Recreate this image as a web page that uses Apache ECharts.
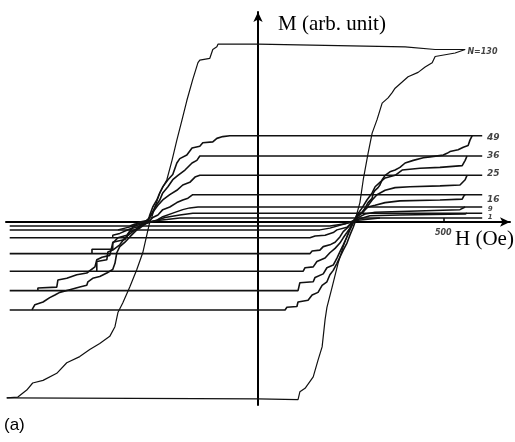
<!DOCTYPE html>
<html><head><meta charset="utf-8">
<script src="https://cdn.jsdelivr.net/npm/echarts@6/dist/echarts.min.js"></script>
<style>html,body{margin:0;padding:0;background:#fff}#c{width:515px;height:442px}</style>
</head><body><div id="c"></div>
<script>
// H in Oe, M in arbitrary units (N=130 saturation ~ 100)
const xTicks = [500];
const loopNames = ['N=130','49','36','25','16','9','1'];
const labelH = [565, 618, 618, 618, 618, 620, 620];
const labelM = [96.5, 47.7, 37.5, 27.3, 12.5, 7.2, 2.6];

const N130_down = [[559,98],[478,98],[397,99.5],[0,101],[-108,101],[-111,99.5],[-122,98],[-130,93],[-130,92],[-157,92],[-162,90.5],[-176,81],[-192,69],[-205,58],[-219,46.5],[-232,35],[-246,24],[-265,16.5],[-278,8.5],[-286,3],[-292,0],[-311,-17.5],[-327,-27],[-346,-37],[-365,-46],[-378,-51.5],[-386,-59.5],[-400,-65],[-427,-69],[-454,-72.5],[-481,-76.5],[-516,-80],[-543,-86],[-580,-90],[-608,-91.5],[-624,-95.5],[-648,-99.5],[-678,-100]];
const N130_up = [[-678,-100],[0,-100.5],[108,-101],[113,-96.5],[127,-94.5],[149,-88],[162,-78.5],[173,-71],[181,-55.5],[186,-48.5],[200,-37],[216,-23.5],[230,-14],[243,-6.5],[254,0],[262,1],[275,11],[284,24],[297,39],[308,50.5],[321,58],[335,67.5],[351,70.5],[362,73.5],[370,76],[389,79.5],[405,82.5],[432,85],[451,88],[470,90.5],[478,94],[505,95],[532,96],[559,98]];

const N49_down = [[605,49],[-76,49],[-95,48.5],[-111,47.5],[-122,45.5],[-149,45],[-157,43],[-178,42],[-192,38],[-211,36],[-219,33.5],[-230,27],[-243,24],[-257,20],[-265,16.5],[-273,12.5],[-284,8.5],[-292,4],[-297,0],[-311,-0.5],[-327,-4.5],[-346,-8.5],[-359,-11.5],[-373,-14],[-381,-17.5],[-386,-23.5],[-392,-27],[-408,-29],[-427,-31],[-446,-32],[-459,-34],[-462,-36],[-481,-37],[-508,-38.5],[-535,-40],[-548,-41.5],[-562,-43],[-580,-45.5],[-602,-47],[-610,-50]];
const N49_up = [[-670,-50],[73,-50],[78,-48.5],[105,-48],[108,-45.5],[135,-44.5],[146,-41.5],[162,-40],[173,-36],[186,-34],[194,-30],[203,-27.5],[213,-23.5],[221,-20],[230,-16],[240,-12],[248,-7.5],[257,-3],[262,0],[270,4],[281,5.5],[289,8],[297,11],[308,13.5],[311,16.5],[316,18],[324,19.5],[329,21],[335,24],[343,26.5],[356,28.5],[370,29.5],[383,31],[397,33.5],[419,35],[446,36.5],[464,37],[500,38],[510,39],[518,40],[540,41],[554,42.5],[567,43.5],[572,46.5],[578,49]];

const N36_down = [[605,37.5],[-157,37.5],[-165,35],[-178,33.5],[-197,29.5],[-216,26.5],[-230,24],[-243,20],[-257,16.5],[-265,12.5],[-278,8.5],[-286,5],[-297,1],[-319,0],[-338,-3],[-354,-7.5],[-378,-9],[-392,-12],[-400,-19],[-421,-20],[-435,-21.5],[-440,-25.5],[-462,-29],[-489,-30],[-516,-32],[-540,-33],[-543,-37],[-594,-37.5],[-594,-39]];
const N36_up = [[-670,-39],[108,-39],[113,-34.5],[149,-34],[154,-31.5],[176,-29.5],[186,-26],[203,-24.5],[213,-20.5],[221,-17],[230,-13],[240,-8.5],[248,-4.5],[257,-0.5],[267,4],[281,8],[294,12.5],[308,16.5],[316,20],[329,22.5],[343,25],[370,26.5],[389,29.5],[437,30.5],[491,31],[551,32],[559,35],[564,37.5]];

const N25_down = [[605,26.5],[-157,26.5],[-170,25.5],[-184,22.5],[-203,21],[-219,18],[-238,15.5],[-257,12.5],[-270,9.5],[-284,5.5],[-292,2.5],[-305,0],[-319,-2.5],[-338,-5.5],[-359,-9],[-373,-13],[-392,-16],[-405,-17],[-408,-21.5],[-435,-22.5],[-435,-28]];
const N25_up = [[-670,-28],[122,-28],[127,-26],[149,-25.5],[159,-22.5],[181,-20.5],[194,-17.5],[208,-15],[221,-12],[230,-9],[240,-6],[248,-3.5],[257,0],[267,3],[281,5],[294,8.5],[308,12.5],[321,15.5],[343,18],[370,19.5],[410,20],[491,20.5],[545,21],[559,24],[564,26.5]];

const N16_down = [[605,15.5],[-176,15.5],[-189,13.5],[-203,12.5],[-219,11],[-238,8.5],[-257,7],[-270,4],[-284,2.5],[-297,0],[-319,-3.5],[-346,-5.5],[-359,-10],[-392,-11.5],[-392,-15.5],[-448,-15.5],[-448,-18]];
const N16_up = [[-670,-18],[140,-18],[146,-16.5],[167,-16],[176,-14],[194,-13],[208,-11.5],[221,-8.5],[230,-5.5],[243,-3],[254,0],[267,3],[281,5.5],[297,8.5],[316,9.5],[343,11],[383,12],[491,12.5],[551,13],[556,15],[559,15.5]];

const N9_down = [[605,8.5],[-162,8.5],[-184,8],[-203,7],[-230,5],[-257,3],[-273,1],[-292,0],[-319,-2.5],[-346,-4],[-373,-6.5],[-392,-7.5],[-392,-9]];
const N9_up = [[-670,-9],[140,-9],[154,-8],[181,-7.5],[203,-6],[213,-4.5],[240,-3],[254,0],[270,2.5],[289,4.5],[316,5.5],[383,6],[545,7],[559,8.5]];

const N4_down = [[605,5],[-176,5],[-211,4],[-251,2.5],[-286,0],[-319,-1.5],[-359,-3.5],[-378,-4.5]];
const N4_up = [[-670,-4.5],[167,-4.5],[194,-3.5],[235,-1],[262,1],[302,3.5],[383,4],[559,4.5],[564,5]];

const N1_down = [[605,2.3],[-211,2.3],[-265,1],[-297,0],[-332,-1.2],[-346,-2.3]];
const N1_up = [[-670,-2.3],[194,-2.3],[235,-1],[270,1],[329,2.3]];

const branches = [
  [N130_down, 1.2], [N130_up, 1.2],
  [N49_down, 1.6], [N49_up, 1.6],
  [N36_down, 1.6], [N36_up, 1.6],
  [N25_down, 1.6], [N25_up, 1.6],
  [N16_down, 1.6], [N16_up, 1.6],
  [N9_down, 1.5], [N9_up, 1.5],
  [N4_down, 1.5], [N4_up, 1.5],
  [N1_down, 1.5], [N1_up, 1.5]
];

const series = branches.map(([d, w]) => ({
  type: 'line', data: d, showSymbol: false, silent: true,
  lineStyle: { color: '#111', width: w }, z: 3
}));

const labelSizes = [8, 9, 9, 9, 9, 7, 7];
const labelData = loopNames.map((n, i) => ({
  value: [labelH[i], labelM[i]],
  label: { show: true, position: 'right', distance: 0, formatter: n,
    fontSize: labelSizes[i], fontWeight: 'bold', fontStyle: 'italic',
    fontFamily: 'DejaVu Sans', color: '#111' }
}));
// tick label of the H axis, placed on the zero line
xTicks.forEach(t => labelData.push({
  value: [t, 0],
  label: { show: true, position: 'bottom', distance: 7, formatter: String(t),
    fontSize: 8, fontWeight: 'bold', fontStyle: 'italic',
    fontFamily: 'DejaVu Sans', color: '#111' }
}));
series.push({ type: 'scatter', symbolSize: 0, silent: true, z: 5, data: labelData });

const chart = echarts.init(document.getElementById('c'), null, { renderer: 'canvas' });
chart.setOption({
  animation: false,
  backgroundColor: '#fff',
  grid: { left: 6, top: 12, width: 504, height: 393 },
  xAxis: {
    type: 'value', min: -680, max: 680,
    axisLine: { onZero: true, symbol: ['none', 'arrow'], symbolSize: [7, 10],
      lineStyle: { color: '#000', width: 2 } },
    axisTick: { show: true, inside: true, length: 4, customValues: xTicks,
      lineStyle: { color: '#000', width: 1.5 } },
    axisLabel: { show: false },
    splitLine: { show: false }
  },
  yAxis: {
    type: 'value', min: -104, max: 119.3,
    axisLine: { onZero: true, symbol: ['none', 'arrow'], symbolSize: [7, 10],
      lineStyle: { color: '#000', width: 2 } },
    axisTick: { show: false }, axisLabel: { show: false },
    splitLine: { show: false }
  },
  graphic: [
    { type: 'text', left: 278, top: 14, style: { text: 'M (arb. unit)',
      font: '21px "Liberation Serif", "Times New Roman", serif', fill: '#000' } },
    { type: 'text', left: 455, top: 229, style: { text: 'H (Oe)',
      font: '21px "Liberation Serif", "Times New Roman", serif', fill: '#000' } },
    { type: 'text', left: 4, top: 417, style: { text: '(a)',
      font: '17px "Liberation Sans", Arial, sans-serif', fill: '#000' } }
  ],
  series: series
});
</script></body></html>
